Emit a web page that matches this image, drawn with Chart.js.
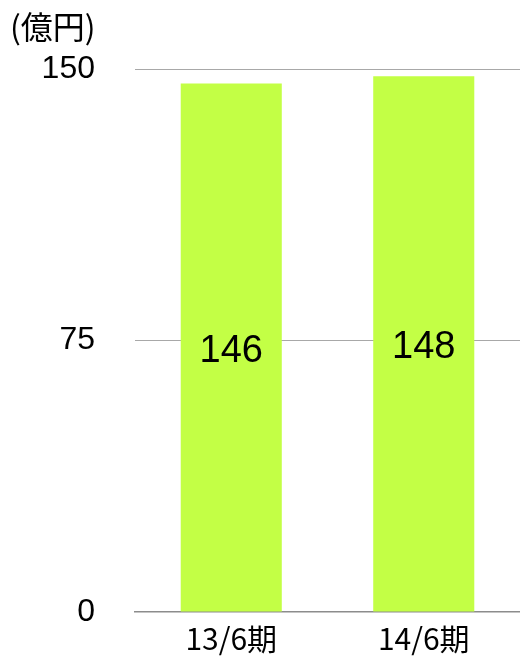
<!DOCTYPE html>
<html>
<head>
<meta charset="utf-8">
<script src="https://cdn.jsdelivr.net/npm/chart.js@4"></script>
<style>
  html, body { margin: 0; padding: 0; background: #fff; }
  #wrap { width: 520px; height: 657px; }
</style>
</head>
<body>
<div id="wrap"><canvas id="salesChart"></canvas></div>
<script>
    // Data
    var categories = ['13/6期', '14/6期'];
    var sales = [146, 148];
    var yTicks = [0, 75, 150];
    var unitLabel = '(億円)';

    var BAR_COLOR = '#c3ff45';

    // unit text top-left + values in the middle of each bar
    var labelsPlugin = {
        id: 'labelsPlugin',
        afterDatasetsDraw: function(chart){
            var ctx = chart.ctx;
            ctx.save();
            ctx.fillStyle = '#000';
            ctx.font = '32px "Noto Sans CJK JP"';
            ctx.textAlign = 'left';
            ctx.textBaseline = 'middle';
            ctx.fillText(unitLabel, 10, 27);

            ctx.font = '38px "Liberation Sans", Arial, sans-serif';
            ctx.textAlign = 'center';
            var meta = chart.getDatasetMeta(0);
            meta.data.forEach(function(bar, i){
                var mid = (bar.y + bar.base) / 2;
                ctx.fillText(String(sales[i]), bar.x, mid + 4);
            });
            ctx.restore();
        }
    };

    new Chart(document.getElementById('salesChart'), {
        type: 'bar',
        data: {
            labels: categories,
            datasets: [{
                data: sales,
                backgroundColor: BAR_COLOR,
                borderWidth: 0,
                barPercentage: 0.525,
                categoryPercentage: 1
            }]
        },
        options: {
            responsive: true,
            maintainAspectRatio: false,
            animation: false,
            layout: { padding: { top: 69, right: 0, bottom: 0, left: 0 } },
            plugins: {
                legend: { display: false },
                tooltip: { enabled: false }
            },
            scales: {
                x: {
                    afterFit: function(scale){ scale.height = 45; },
                    grid: { display: false, drawTicks: false },
                    border: { display: true, color: '#8c8c8c', width: 1.5 },
                    ticks: {
                        color: '#000',
                        padding: 12,
                        font: { family: '"Noto Sans CJK JP"', size: 30, lineHeight: 1 }
                    }
                },
                y: {
                    min: 0,
                    max: 150,
                    afterBuildTicks: function(scale){
                        scale.ticks = yTicks.map(function(v){ return { value: v }; });
                    },
                    afterFit: function(scale){ scale.width = 135; },
                    grid: {
                        drawTicks: false,
                        color: function(c){ return c.tick && c.tick.value === 0 ? 'rgba(0,0,0,0)' : '#a8a8a8'; },
                        lineWidth: 1
                    },
                    border: { display: false },
                    ticks: {
                        color: '#000',
                        padding: 40,
                        font: { family: '"Liberation Sans", Arial, sans-serif', size: 32, lineHeight: 0.2 }
                    }
                }
            }
        },
        plugins: [labelsPlugin]
    });
</script>
</body>
</html>
